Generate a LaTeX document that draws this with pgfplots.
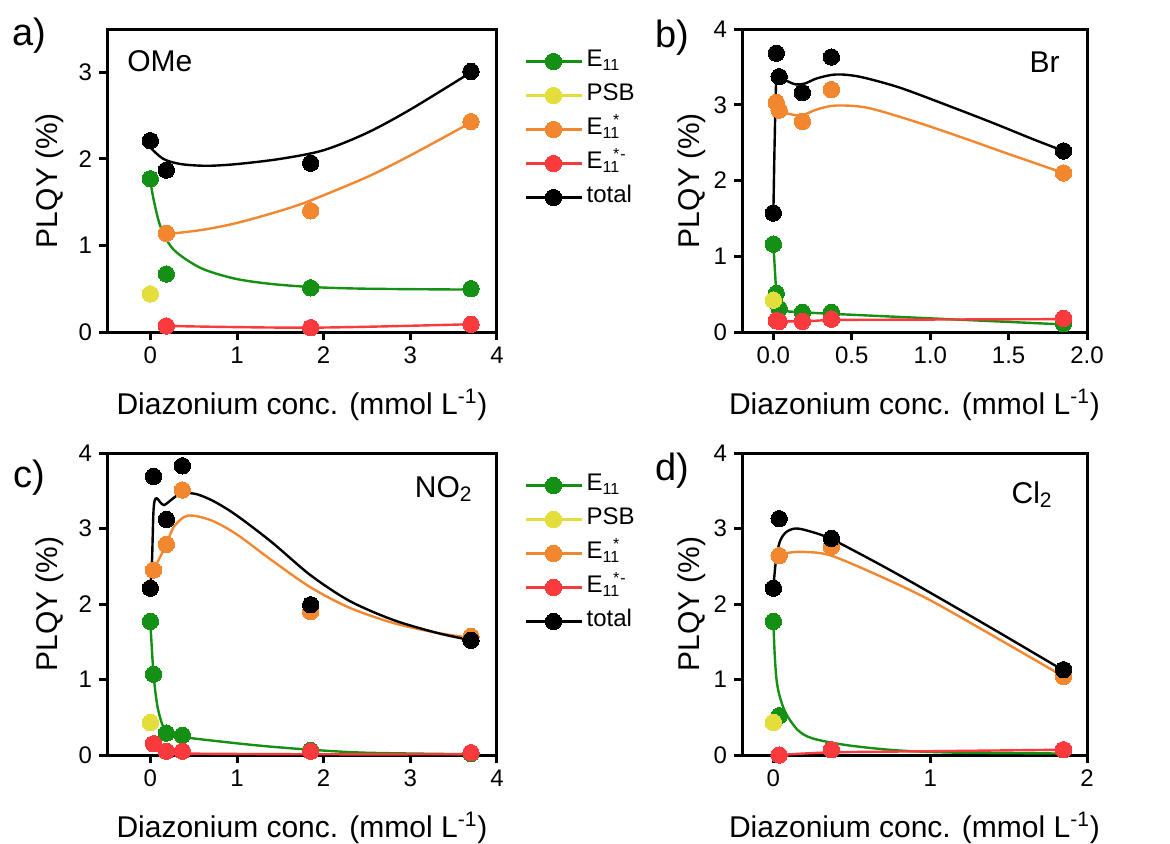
\documentclass[border=0pt]{standalone}
\usepackage{fontspec}
\setmainfont{Liberation Sans}
\usepackage{pgfplots}
\pgfplotsset{compat=1.18}
\definecolor{cgreen}{RGB}{20,145,20}
\definecolor{cyellow}{RGB}{228,222,60}
\definecolor{corange}{RGB}{242,135,48}
\definecolor{cred}{RGB}{250,58,60}
\pgfplotsset{
  myax/.style={
    scale only axis,
    axis line style={line width=1.5pt},
    every tick/.style={line width=1.5pt, black},
    major tick length=4pt,
    tick align=outside,
    tick pos=left,
    ticklabel style={font=\fontsize{12}{14}\selectfont},
    label style={font=\fontsize{15}{18}\selectfont},
    /pgf/number format/assume math mode=true,
    xlabel={Diazonium conc. (mmol L\textsuperscript{-1})},
    ylabel={PLQY (\%)},
    xlabel style={at={(axis description cs:0.5,-0.241)}, anchor=center},
    ylabel style={at={(axis description cs:-0.146,0.5)}, anchor=center},
    legend style={draw=none, fill=none, inner sep=0pt, font=\fontsize{12}{14}\selectfont, row sep=0pt,
      nodes={text height=9pt, text depth=4pt, inner sep=2pt}, cells={anchor=west}},
    legend image code/.code={%
      \draw[#1] (0pt,0pt) -- (28pt,0pt);
      \draw[#1] plot[only marks] coordinates {(14pt,0pt)};},
  },
  mk/.style={only marks, mark=*, mark size=4.1pt, color=#1, mark options={fill=#1, draw=#1, line width=0pt}, forget plot},
  cv/.style={no marks, smooth, line width=1.2pt, color=#1, forget plot},
  ln/.style={no marks, line width=1.2pt, color=#1, forget plot},
  lg/.style={color=#1, line width=1.2pt, mark=*, mark size=4.1pt, mark options={fill=#1, draw=#1, line width=0pt}},
}
\newcommand{\Eone}{E\textsubscript{11}}
\newcommand{\Estar}{E\textsubscript{11}\llap{\textsuperscript{*}}}
\newcommand{\Estarm}{E\textsubscript{11}\llap{\textsuperscript{*}}\textsuperscript{-}}
\begin{document}
\begin{tikzpicture}[x=1pt,y=1pt]
\useasboundingbox (0,0) rectangle (585,421.5);
% ---------------- a) OMe
\begin{axis}[myax, at={(53.5pt,255.5pt)}, anchor=south west, width=195pt, height=151.5pt,
  xmin=-0.5, xmax=4, ymin=0, ymax=3.5, xtick={0,1,2,3,4}, ytick={0,1,2,3},
  legend style={at={(axis description cs:1.069,0.95)}, anchor=north west}]
\addplot[cv=cgreen] coordinates {(0,1.75)(0.04,1.52)(0.12,1.21)(0.27,0.95)(0.58,0.74)(0.96,0.62)(1.35,0.56)(1.85,0.52)(2.5,0.50)(3.7,0.49)};
\addplot[cv=corange] coordinates {(0.185,1.13)(0.6,1.18)(1.0,1.26)(1.5,1.40)(1.85,1.52)(2.5,1.79)(3.0,2.04)(3.7,2.42)};
\addplot[cv=cred] coordinates {(0.185,0.07)(1.85,0.05)(3.7,0.09)};
\addplot[cv=black] coordinates {(0,2.13)(0.15,2.0)(0.35,1.94)(0.65,1.92)(1.0,1.94)(1.5,2.0)(2.0,2.1)(2.5,2.3)(3.0,2.57)(3.7,3.0)};
\addplot[mk=cgreen] coordinates {(0,1.77)(0.185,0.67)(1.85,0.51)(3.7,0.50)};
\addplot[mk=cyellow] coordinates {(0,0.44)};
\addplot[mk=corange] coordinates {(0.185,1.14)(1.85,1.40)(3.7,2.43)};
\addplot[mk=cred] coordinates {(0.185,0.07)(1.85,0.05)(3.7,0.09)};
\addplot[mk=black] coordinates {(0,2.21)(0.185,1.87)(1.85,1.95)(3.7,3.01)};
\addlegendimage{lg=cgreen}\addlegendentry{\Eone}
\addlegendimage{lg=cyellow}\addlegendentry{PSB}
\addlegendimage{lg=corange}\addlegendentry{\Estar}
\addlegendimage{lg=cred}\addlegendentry{\Estarm}
\addlegendimage{lg=black}\addlegendentry{total}
\end{axis}
% ---------------- b) Br
\begin{axis}[myax, at={(371pt,255.5pt)}, anchor=south west, width=172.5pt, height=151.5pt,
  xmin=-0.2, xmax=2, ymin=0, ymax=4, xtick={0,0.5,1,1.5,2}, ytick={0,1,2,3,4},
  xticklabel style={/pgf/number format/.cd, fixed, fixed zerofill, precision=1}]
\addplot[ln=cgreen] coordinates {(0,1.16)(0.0185,0.51)(0.037,0.31)(0.1,0.27)(0.185,0.26)(0.37,0.24)(1.85,0.10)};
\addplot[ln=cred] coordinates {(0.0185,0.14)(0.037,0.14)(0.185,0.14)(0.37,0.16)(1.85,0.17)};
\addplot[cv=corange] coordinates {(0.0185,3.02)(0.037,2.93)(0.1,2.88)(0.18,2.86)(0.28,2.94)(0.4,2.99)(0.6,2.96)(0.9,2.78)(1.2,2.57)(1.5,2.35)(1.85,2.1)};
\addplot[cv=black] coordinates {(0,1.57)(0.008,2.5)(0.018,3.3)(0.037,3.36)(0.08,3.32)(0.14,3.27)(0.2,3.28)(0.28,3.35)(0.4,3.40)(0.55,3.37)(0.8,3.23)(1.1,3.0)(1.4,2.76)(1.65,2.55)(1.85,2.39)};
\addplot[mk=cgreen] coordinates {(0,1.16)(0.0185,0.51)(0.037,0.31)(0.185,0.26)(0.37,0.26)(1.85,0.11)};
\addplot[mk=cyellow] coordinates {(0,0.42)};
\addplot[mk=corange] coordinates {(0.0185,3.03)(0.037,2.93)(0.185,2.78)(0.37,3.20)(1.85,2.10)};
\addplot[mk=cred] coordinates {(0.0185,0.15)(0.037,0.14)(0.185,0.14)(0.37,0.17)(1.85,0.18)};
\addplot[mk=black] coordinates {(0,1.57)(0.0185,3.68)(0.037,3.37)(0.185,3.16)(0.37,3.63)(1.85,2.39)};
\end{axis}
% ---------------- c) NO2
\begin{axis}[myax, at={(53.5pt,44pt)}, anchor=south west, width=195pt, height=151pt,
  xmin=-0.5, xmax=4, ymin=0, ymax=4, xtick={0,1,2,3,4}, ytick={0,1,2,3,4},
  legend style={at={(axis description cs:1.069,0.95)}, anchor=north west}]
\addplot[cv=cgreen] coordinates {(0,1.77)(0.037,1.07)(0.09,0.6)(0.185,0.30)(0.37,0.24)(0.8,0.18)(1.3,0.12)(1.85,0.07)(2.5,0.03)(3.7,0.01)};
\addplot[cv=cred] coordinates {(0.037,0.15)(0.185,0.04)(0.37,0.02)(1.85,0.01)(3.7,0.01)};
\addplot[cv=corange] coordinates {(0.037,2.45)(0.185,2.79)(0.27,3.02)(0.43,3.17)(0.7,3.11)(1.0,2.92)(1.4,2.58)(1.85,2.22)(2.3,1.95)(2.8,1.75)(3.3,1.62)(3.7,1.55)};
\addplot[cv=black] coordinates {(0,2.21)(0.02,2.6)(0.035,3.2)(0.05,3.37)(0.075,3.40)(0.12,3.34)(0.16,3.31)(0.22,3.36)(0.3,3.43)(0.4,3.47)(0.55,3.45)(0.75,3.35)(1.0,3.17)(1.4,2.82)(1.85,2.38)(2.3,2.04)(2.8,1.79)(3.3,1.62)(3.7,1.52)};
\addplot[mk=cgreen] coordinates {(0,1.77)(0.037,1.07)(0.185,0.29)(0.37,0.26)(1.85,0.06)(3.7,0.02)};
\addplot[mk=cyellow] coordinates {(0,0.43)};
\addplot[mk=corange] coordinates {(0.037,2.45)(0.185,2.79)(0.37,3.51)(1.85,1.90)(3.7,1.57)};
\addplot[mk=cred] coordinates {(0.037,0.15)(0.185,0.05)(0.37,0.05)(1.85,0.05)(3.7,0.03)};
\addplot[mk=black] coordinates {(0,2.21)(0.037,3.69)(0.185,3.12)(0.37,3.83)(1.85,1.99)(3.7,1.52)};
\addlegendimage{lg=cgreen}\addlegendentry{\Eone}
\addlegendimage{lg=cyellow}\addlegendentry{PSB}
\addlegendimage{lg=corange}\addlegendentry{\Estar}
\addlegendimage{lg=cred}\addlegendentry{\Estarm}
\addlegendimage{lg=black}\addlegendentry{total}
\end{axis}
% ---------------- d) Cl2
\begin{axis}[myax, at={(371pt,44pt)}, anchor=south west, width=172.5pt, height=151pt,
  xmin=-0.2, xmax=2, ymin=0, ymax=4, xtick={0,1,2}, ytick={0,1,2,3,4}]
\addplot[cv=cgreen] coordinates {(0,1.77)(0.008,1.35)(0.02,1.0)(0.04,0.78)(0.08,0.55)(0.156,0.33)(0.25,0.22)(0.47,0.13)(0.8,0.06)(1.2,0.03)(1.85,0.02)};
\addplot[cv=cred] coordinates {(0.037,0.0)(0.37,0.035)(1.0,0.05)(1.85,0.07)};
\addplot[cv=corange] coordinates {(0.037,2.64)(0.1,2.68)(0.2,2.69)(0.37,2.64)(0.7,2.35)(1.0,2.05)(1.4,1.58)(1.85,1.04)};
\addplot[cv=black] coordinates {(0,2.21)(0.015,2.55)(0.04,2.82)(0.08,2.95)(0.14,3.0)(0.22,2.97)(0.37,2.86)(0.7,2.5)(1.0,2.15)(1.4,1.67)(1.85,1.12)};
\addplot[mk=cgreen] coordinates {(0,1.77)(0.037,0.52)};
\addplot[mk=cyellow] coordinates {(0,0.43)};
\addplot[mk=corange] coordinates {(0.037,2.64)(0.37,2.76)(1.85,1.04)};
\addplot[mk=cred] coordinates {(0.037,0.0)(0.37,0.07)(1.85,0.07)};
\addplot[mk=black] coordinates {(0,2.21)(0.037,3.13)(0.37,2.87)(1.85,1.13)};
\end{axis}
% panel letters and inner labels
\node[anchor=base west, inner sep=0pt, font=\fontsize{19}{22}\selectfont] at (6,399) {a)};
\node[anchor=base west, inner sep=0pt, font=\fontsize{19}{22}\selectfont] at (327.5,397.5) {b)};
\node[anchor=base west, inner sep=0pt, font=\fontsize{19}{22}\selectfont] at (6.5,178) {c)};
\node[anchor=base west, inner sep=0pt, font=\fontsize{19}{22}\selectfont] at (327.5,181.5) {d)};
\node[anchor=base west, inner sep=0pt, font=\fontsize{15}{18}\selectfont] at (63.5,385.5) {OMe};
\node[anchor=base east, inner sep=0pt, font=\fontsize{15}{18}\selectfont] at (530,385) {Br};
\node[anchor=base east, inner sep=0pt, font=\fontsize{15}{18}\selectfont] at (236.5,173) {NO\textsubscript{2}};
\node[anchor=base east, inner sep=0pt, font=\fontsize{15}{18}\selectfont] at (526.5,170) {Cl\textsubscript{2}};
\end{tikzpicture}
\end{document}
